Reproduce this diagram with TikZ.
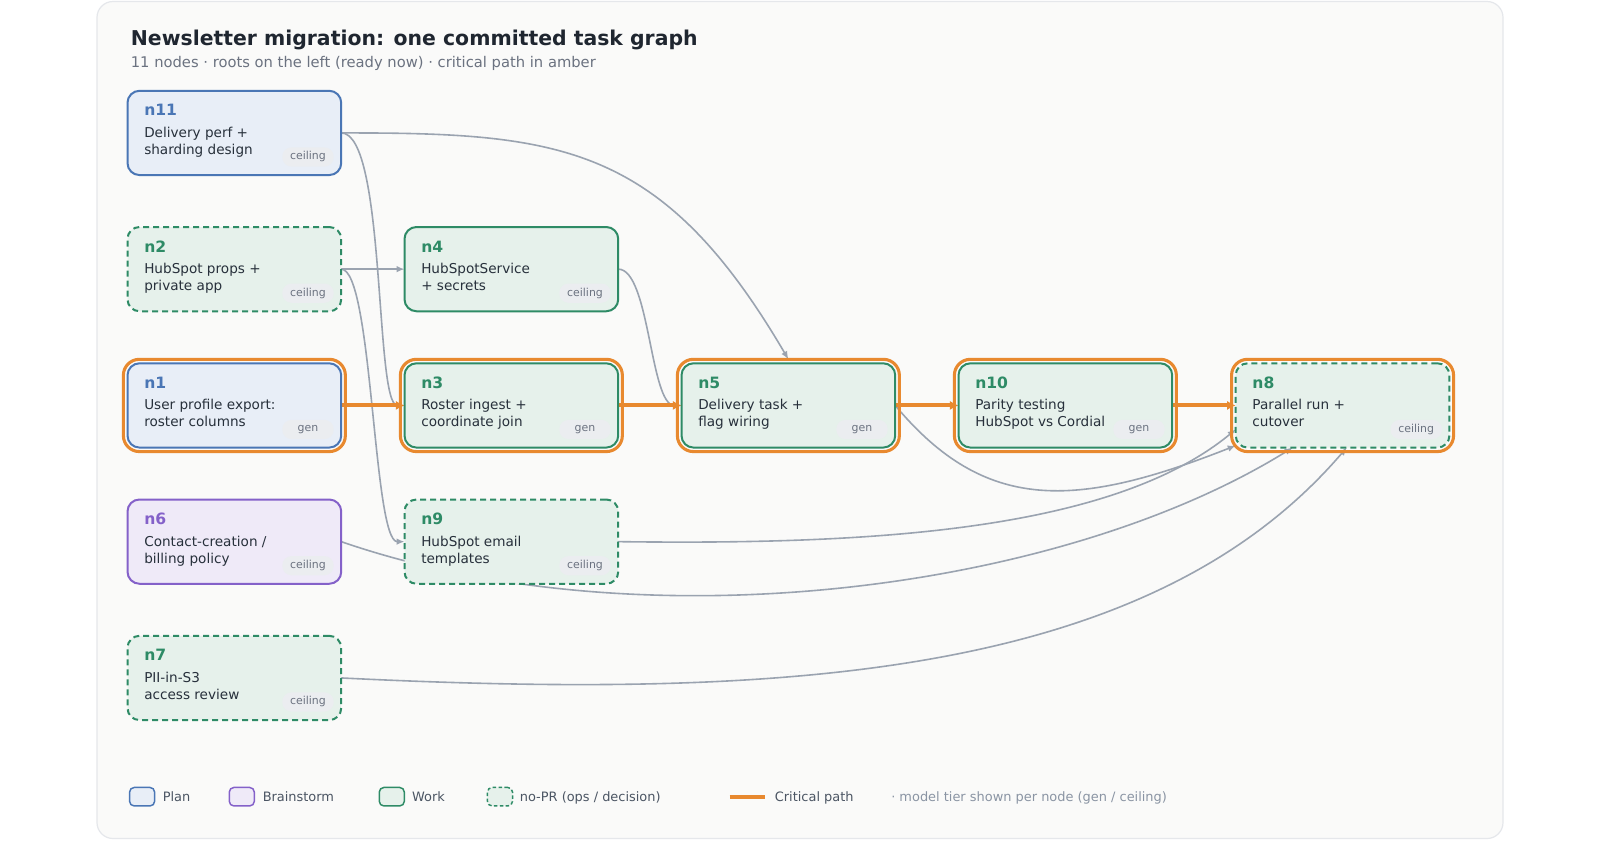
\documentclass[tikz,border=0pt]{standalone}
\usepackage{fontspec}
\setmainfont{DejaVu Sans}
\usetikzlibrary{arrows.meta,calc}

\definecolor{cardf}{HTML}{FAFAF9}
\definecolor{cardl}{HTML}{E5E7EB}
\definecolor{planc}{HTML}{4A76B5}
\definecolor{planf}{HTML}{E8EEF7}
\definecolor{brainc}{HTML}{8461C9}
\definecolor{brainf}{HTML}{EFEAF8}
\definecolor{workc}{HTML}{2E8B66}
\definecolor{workf}{HTML}{E6F1EB}
\definecolor{crit}{HTML}{E8892F}
\definecolor{edgegray}{HTML}{9AA3B0}
\definecolor{textdark}{HTML}{27303B}
\definecolor{titlec}{HTML}{1F2630}
\definecolor{subc}{HTML}{6B7280}
\definecolor{pillf}{HTML}{EBEDF0}
\definecolor{legtext}{HTML}{4B5563}
\definecolor{notec}{HTML}{8A94A3}

\pgfdeclarelayer{edges}
\pgfdeclarelayer{bg}
\pgfsetlayers{bg,edges,main}

\tikzset{
  tbox/.style={rectangle, rounded corners=9pt, minimum width=160.3pt, minimum height=63.2pt,
    inner sep=0pt, outer sep=0pt, line width=1.5pt},
  tplan/.style={tbox, draw=planc, fill=planf},
  tbrain/.style={tbox, draw=brainc, fill=brainf},
  twork/.style={tbox, draw=workc, fill=workf},
  tnopr/.style={tbox, draw=workc, fill=workf, dash pattern=on 4.5pt off 3pt},
  critring/.style={rectangle, rounded corners=12pt, minimum width=166.5pt, minimum height=69.2pt,
    inner sep=0pt, outer sep=0pt, draw=crit, line width=2.3pt},
  idlabel/.style={font=\fontsize{11.7pt}{13pt}\selectfont\bfseries, inner sep=0pt},
  bodytext/.style={font=\fontsize{10.2pt}{12pt}\selectfont, text=textdark, inner sep=0pt},
  tierpill/.style={rectangle, rounded corners=7pt, fill=pillf, minimum width=38.6pt,
    minimum height=14.4pt, inner sep=0pt, outer sep=0pt, text=subc,
    font=\fontsize{8.2pt}{9pt}\selectfont},
  edgeg/.style={draw=edgegray, line width=1.2pt, -{Latex[length=6pt,width=5pt]}},
  edgec/.style={draw=crit, line width=3pt, -{Latex[length=6.5pt,width=7pt]}},
  swatch/.style={rectangle, rounded corners=3.5pt, minimum width=18.8pt, minimum height=13.9pt,
    inner sep=0pt, outer sep=0pt, line width=1.1pt},
  legtxt/.style={font=\fontsize{9.7pt}{11pt}\selectfont, text=legtext, inner sep=0pt, anchor=base west},
}

% one task card: name, box style, id colour, left, top, line 1, line 2, tier
\newcommand\mytask[8]{%
  \node[#2, anchor=north west] (#1) at (#4,#5) {};
  \node[idlabel, text=#3, anchor=base west] (#1-id) at ($(#1.north west)+(16.5,25)$) {#1};
  \node[bodytext, anchor=base west] (#1-a) at ($(#1.north west)+(16.5,46.5)$) {#6};
  \node[bodytext, anchor=base west] (#1-b) at ($(#1.north west)+(16.5,63.5)$) {#7};
  \node[tierpill, anchor=south east] (#1-tier) at ($(#1.south east)+(-7.5,-8.5)$) {#8};
}

\begin{document}
\begin{tikzpicture}[x=0.75pt, y=-0.75pt]
\useasboundingbox (0,0) rectangle (1600,840);

\begin{pgfonlayer}{bg}
  \fill[white] (0,0) rectangle (1600,840);
  \draw[fill=cardf, draw=cardl, line width=0.9pt, rounded corners=12pt] (97,1.5) rectangle (1503,838.5);
\end{pgfonlayer}

% heading
\node[anchor=base west, inner sep=0pt, text=titlec, font=\fontsize{15.3pt}{18pt}\selectfont\bfseries]
  (title) at (130.6,45) {Newsletter migration: one committed task graph};
\node[anchor=base west, inner sep=0pt, text=subc, font=\fontsize{11.05pt}{13pt}\selectfont]
  (subtitle) at (130.6,67.5) {11 nodes · roots on the left (ready now) · critical path in amber};

% column 1
\mytask{n11}{tplan}{planc}{127.5}{90.8}{Delivery perf +}{sharding design}{ceiling}
\mytask{n2}{tnopr}{workc}{127.5}{227.0}{HubSpot props +}{private app}{ceiling}
\mytask{n1}{tplan}{planc}{127.5}{363.3}{User profile export:}{roster columns}{gen}
\mytask{n6}{tbrain}{brainc}{127.5}{499.5}{Contact-creation /}{billing policy}{ceiling}
\mytask{n7}{tnopr}{workc}{127.5}{635.8}{PII-in-S3}{access review}{ceiling}
% column 2
\mytask{n4}{twork}{workc}{404.5}{227.0}{HubSpotService}{+ secrets}{ceiling}
\mytask{n3}{twork}{workc}{404.5}{363.3}{Roster ingest +}{coordinate join}{gen}
\mytask{n9}{tnopr}{workc}{404.5}{499.5}{HubSpot email}{templates}{ceiling}
% columns 3-5
\mytask{n5}{twork}{workc}{681.5}{363.3}{Delivery task +}{flag wiring}{gen}
\mytask{n10}{twork}{workc}{958.5}{363.3}{Parity testing}{HubSpot vs Cordial}{gen}
\mytask{n8}{tnopr}{workc}{1235.7}{363.3}{Parallel run +}{cutover}{ceiling}

% critical-path halos
\foreach \c in {n1,n3,n5,n10,n8} {
  \node[critring] (\c-ring) at (\c.center) {};
}

% dependencies
\begin{pgfonlayer}{edges}
  \draw[edgeg] (n11.east) .. controls (560,132.7) and (662,143.5) .. (n5-ring.north);
  \draw[edgeg] (n11.east) .. controls +(45,0) and +(-30,0) .. (n3.west);
  \draw[edgeg] (n2.east) -- (n4.west);
  \draw[edgeg] (n2.east) .. controls +(31.5,0) and +(-31.5,0) .. (n9.west);
  \draw[edgeg] (n4.east) .. controls +(31.5,0) and +(-31.5,0) .. (n5.west);
  \draw[edgeg] (n5.east) .. controls (985,513) and (1075,509) .. ($(n8.south west)+(0,-2)$);
  \draw[edgeg] (n9.east) .. controls (868,545) and (1111.8,531.7) .. ($(n8.west)+(0,24)$);
  \draw[edgeg] (n6.east) .. controls (640,645) and (1060,592) .. ($(n8.south west)+(57,0)$);
  \draw[edgeg] (n7.east) .. controls (791.7,700.3) and (1151,676) .. ($(n8.south west)+(111,0)$);
  % critical path
  \draw[edgec] (n1.east) -- (n3.west);
  \draw[edgec] (n3.east) -- (n5.west);
  \draw[edgec] (n5.east) -- (n10.west);
  \draw[edgec] (n10.east) -- (n8.west);
\end{pgfonlayer}

% legend
\node[swatch, draw=planc, fill=planf] (lg-plan) at (142.1,796.7) {};
\node[legtxt] (lg-plan-t) at (162.5,801.5) {Plan};
\node[swatch, draw=brainc, fill=brainf] (lg-brain) at (241.8,796.7) {};
\node[legtxt] (lg-brain-t) at (262.5,801.5) {Brainstorm};
\node[swatch, draw=workc, fill=workf] (lg-work) at (391.8,796.7) {};
\node[legtxt] (lg-work-t) at (411.8,801.5) {Work};
\node[swatch, draw=workc, fill=workf, dash pattern=on 2.6pt off 1.8pt] (lg-nopr) at (500,796.7) {};
\node[legtxt] (lg-nopr-t) at (519.6,801.5) {no-PR (ops / decision)};
\coordinate (lg-crit-a) at (729.6,796.5);
\coordinate (lg-crit-b) at (765.3,796.5);
\draw[draw=crit, line width=3pt] (lg-crit-a) -- (lg-crit-b);
\node[legtxt] (lg-crit-t) at (774.6,801.5) {Critical path};
\node[legtxt, text=notec] (lg-note) at (891,801.5) {· model tier shown per node (gen / ceiling)};
\end{tikzpicture}
\end{document}
